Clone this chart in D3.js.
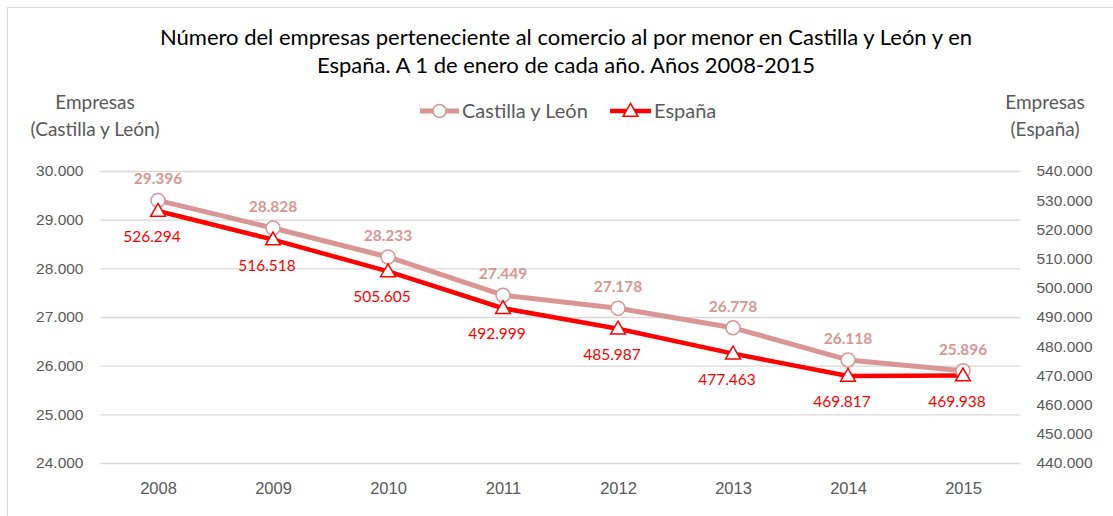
<!DOCTYPE html>
<html><head><meta charset="utf-8">
<script src="https://cdn.jsdelivr.net/npm/d3@7"></script>
<style>
html,body{margin:0;padding:0;background:#fff;}
svg{display:block;font-family:Lato,"Open Sans",sans-serif;}
</style></head>
<body><svg id="c" width="1113" height="516"></svg>
<script>
const years = ["2008","2009","2010","2011","2012","2013","2014","2015"];
const castillaLeon = [29396, 28828, 28233, 27449, 27178, 26778, 26118, 25896];
const espana = [526294, 516518, 505605, 492999, 485987, 477463, 469817, 469938];
const leftTicks = [24000, 25000, 26000, 27000, 28000, 29000, 30000];
const rightTicks = [440000, 450000, 460000, 470000, 480000, 490000, 500000, 510000, 520000, 530000, 540000];
const titleLines = ["Número del empresas perteneciente al comercio al por menor en Castilla y León y en",
                    "España. A 1 de enero de cada año. Años 2008-2015"];
const seriesNames = ["Castilla y León", "España"];
const leftTitle = ["Empresas", "(Castilla y León)"];
const rightTitle = ["Empresas", "(España)"];

const svg = d3.select("#c");
const plot = {left: 100.5, right: 1020.5, top: 171, bottom: 463};
const cylColor = "#D99694", espColor = "#FF0000", gray = "#595959", grid = "#D9D9D9";

const loc = d3.formatLocale({decimal: ",", thousands: ".", grouping: [3], currency: ["", ""]});
const fmt = loc.format(",d");

svg.append("rect").attr("x", 7.5).attr("y", 7.5).attr("width", 1130).attr("height", 530)
  .attr("fill", "#fff").attr("stroke", grid).attr("stroke-width", 1);

const x = d3.scalePoint().domain(years).range([plot.left, plot.right]).padding(0.5);
const yL = d3.scaleLinear().domain([24000, 30000]).range([plot.bottom, plot.top]);
const yR = d3.scaleLinear().domain([440000, 540000]).range([plot.bottom, plot.top]);

// gridlines
const gGrid = svg.append("g").attr("transform", `translate(${plot.left},0)`)
  .call(d3.axisLeft(yL).tickValues(leftTicks).tickSize(-(plot.right - plot.left)).tickFormat(""));
gGrid.select(".domain").remove();
gGrid.selectAll("line").attr("stroke", grid).attr("stroke-width", 1.3);

// left axis
const gL = svg.append("g").attr("transform", `translate(${plot.left},0)`)
  .call(d3.axisLeft(yL).tickValues(leftTicks).tickSize(0).tickPadding(17).tickFormat(fmt));
gL.select(".domain").remove();
gL.selectAll("text").attr("fill", gray).style("font-size", "15.5px");

// right axis
const gR = svg.append("g").attr("transform", `translate(${plot.right},0)`)
  .call(d3.axisRight(yR).tickValues(rightTicks).tickSize(0).tickPadding(16).tickFormat(fmt));
gR.select(".domain").remove();
gR.selectAll("text").attr("fill", gray).style("font-size", "15.5px");

// x axis
const gX = svg.append("g").attr("transform", `translate(0,${plot.bottom})`)
  .call(d3.axisBottom(x).tickSize(0).tickPadding(19));
gX.select(".domain").remove();
gX.selectAll("text").attr("fill", gray).style("font-size", "16.5px");

// title
svg.append("text").attr("text-anchor", "middle").attr("fill", "#000")
  .style("font-size", "22px")
  .selectAll("tspan").data(titleLines).join("tspan")
  .attr("x", 566).attr("y", (d, i) => 45 + i * 28).text(d => d);

// axis titles
svg.append("text").attr("text-anchor", "middle").attr("fill", gray).style("font-size", "19px")
  .selectAll("tspan").data(leftTitle).join("tspan")
  .attr("x", 95).attr("y", (d, i) => 109 + i * 27).text(d => d);
svg.append("text").attr("text-anchor", "middle").attr("fill", gray).style("font-size", "19px")
  .selectAll("tspan").data(rightTitle).join("tspan")
  .attr("x", 1045).attr("y", (d, i) => 109 + i * 27).text(d => d);

// lines
const lineL = d3.line().x((d, i) => x(years[i])).y(d => yL(d));
const lineR = d3.line().x((d, i) => x(years[i])).y(d => yR(d));
svg.append("path").datum(castillaLeon).attr("d", lineL).attr("fill", "none")
  .attr("stroke", cylColor).attr("stroke-width", 5).attr("stroke-linejoin", "round");
svg.append("path").datum(espana).attr("d", lineR).attr("fill", "none")
  .attr("stroke", espColor).attr("stroke-width", 4.5).attr("stroke-linejoin", "round");

const tri = d3.symbol().type(d3.symbolTriangle).size(95);

// markers
svg.append("g").selectAll("circle").data(castillaLeon).join("circle")
  .attr("cx", (d, i) => x(years[i])).attr("cy", d => yL(d)).attr("r", 7)
  .attr("fill", "#fff").attr("stroke", cylColor).attr("stroke-width", 1.5);
svg.append("g").selectAll("path").data(espana).join("path")
  .attr("d", tri)
  .attr("transform", (d, i) => `translate(${x(years[i])},${yR(d) + 1})`)
  .attr("fill", "#fff").attr("stroke", espColor).attr("stroke-width", 1.5);

// data labels
svg.append("g").selectAll("text").data(castillaLeon).join("text")
  .attr("x", (d, i) => x(years[i])).attr("y", d => yL(d) - 16)
  .attr("text-anchor", "middle").attr("fill", cylColor)
  .style("font-size", "15.5px").style("font-weight", "bold").text(d => fmt(d));
svg.append("g").selectAll("text").data(espana).join("text")
  .attr("x", (d, i) => x(years[i]) - 6).attr("y", d => yR(d) + 31)
  .attr("text-anchor", "middle").attr("fill", espColor)
  .style("font-size", "15.5px").text(d => fmt(d));

// legend
const lg = svg.append("g");
lg.append("line").attr("x1", 420).attr("x2", 459).attr("y1", 111).attr("y2", 111)
  .attr("stroke", cylColor).attr("stroke-width", 5);
lg.append("circle").attr("cx", 439.5).attr("cy", 111).attr("r", 6.5)
  .attr("fill", "#fff").attr("stroke", cylColor).attr("stroke-width", 1.5);
lg.append("text").attr("x", 462).attr("y", 118).attr("fill", gray).style("font-size", "20px").text(seriesNames[0]);
lg.append("line").attr("x1", 610).attr("x2", 651).attr("y1", 111).attr("y2", 111)
  .attr("stroke", espColor).attr("stroke-width", 4.5);
lg.append("path").attr("d", tri).attr("transform", "translate(630.5,112)")
  .attr("fill", "#fff").attr("stroke", espColor).attr("stroke-width", 1.5);
lg.append("text").attr("x", 654).attr("y", 118).attr("fill", gray).style("font-size", "20px").text(seriesNames[1]);
</script>
</body></html>
